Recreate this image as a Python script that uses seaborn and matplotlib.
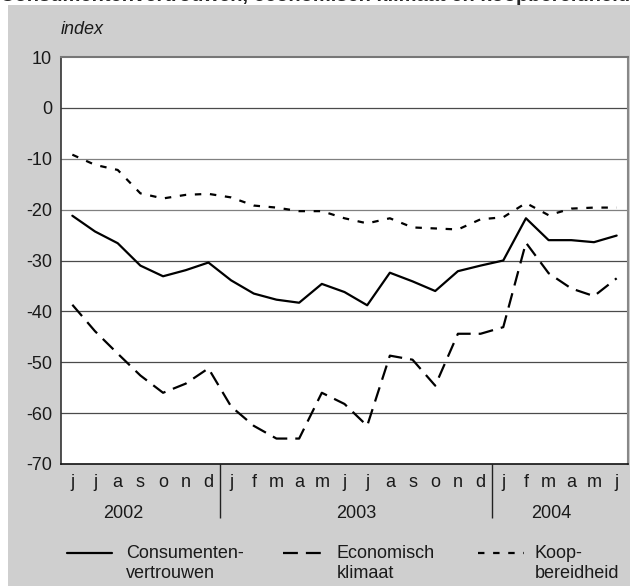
import numpy as np
import pandas as pd
import seaborn as sns
import matplotlib.pyplot as plt
from matplotlib.lines import Line2D
from matplotlib.patches import Rectangle

# maanden juni 2002 t/m juni 2004
maanden = ['j', 'j', 'a', 's', 'o', 'n', 'd',
           'j', 'f', 'm', 'a', 'm', 'j', 'j', 'a', 's', 'o', 'n', 'd',
           'j', 'f', 'm', 'a', 'm', 'j']
jaren = ['2002', '2003', '2004']
jaar_pos = [2.25, 12.5, 21.1]
jaar_grens = [6.5, 18.5]

consumentenvertrouwen = [-21.2, -24.3, -26.6, -31.0, -33.1, -31.9, -30.4,
                         -33.9, -36.5, -37.7, -38.3, -34.6, -36.2, -38.8,
                         -32.4, -34.1, -36.0, -32.1, -31.0, -30.0, -21.7,
                         -26.0, -26.0, -26.4, -25.1]
economisch_klimaat = [-38.7, -43.9, -48.3, -52.6, -56.0, -54.2, -51.2,
                      -58.7, -62.5, -65.0, -65.0, -56.0, -58.2, -62.5,
                      -48.7, -49.5, -54.6, -44.4, -44.4, -43.1, -26.5,
                      -32.5, -35.5, -37.0, -33.5]
koopbereidheid = [-9.2, -11.2, -12.2, -16.8, -17.8, -17.1, -16.9,
                  -17.6, -19.2, -19.6, -20.3, -20.3, -21.7, -22.7,
                  -21.7, -23.5, -23.7, -23.9, -21.9, -21.5, -18.7,
                  -21.1, -19.8, -19.6, -19.6]

namen = ['Consumentenvertrouwen', 'Economisch klimaat', 'Koopbereidheid']
legenda_tekst = [('Consumenten-', 'vertrouwen'), ('Economisch', 'klimaat'),
                 ('Koop-', 'bereidheid')]
streep = {namen[0]: '', namen[1]: (6.7, 3.6), namen[2]: (2.9, 3.9)}

n = len(maanden)
df = pd.DataFrame({
    't': list(range(n)) * 3,
    'waarde': consumentenvertrouwen + economisch_klimaat + koopbereidheid,
    'reeks': [namen[0]] * n + [namen[1]] * n + [namen[2]] * n,
})

sns.set_style('white')
plt.rcParams['font.family'] = ['Liberation Sans', 'DejaVu Sans']
plt.rcParams['axes.unicode_minus'] = False
FS = 13
TK = '#1a1a1a'

W, H = 630, 586
fig = plt.figure(figsize=(W / 100, H / 100), dpi=100, facecolor='white')
fig.patches.append(Rectangle((8 / W, 0), 1, (H - 5) / H, transform=fig.transFigure,
                             facecolor='#cfcfcf', edgecolor='none', zorder=-10))

ax = fig.add_axes([61 / W, (H - 464) / H, (628 - 61) / W, (464 - 57) / H])
ax.set_facecolor('white')

sns.lineplot(data=df, x='t', y='waarde', style='reeks', dashes=streep,
             color='black', linewidth=1.6, legend=False, ax=ax, zorder=3)

ax.set_xlim(-0.5, 24.5)
ax.set_ylim(-70, 10)
ax.set_yticks(range(-70, 11, 10))
ax.set_xticks(range(n))
ax.set_xticklabels(maanden)
ax.set_xlabel('')
ax.set_ylabel('')
for y in range(-60, 1, 10):
    kleur = '#808080' if y in (-10, -20) else '#4a4a4a'
    ax.axhline(y, color=kleur, linewidth=0.9, zorder=1)

ax.tick_params(axis='y', length=0, pad=6.5, labelsize=FS, labelcolor=TK)
ax.tick_params(axis='x', direction='in', length=5, width=1, color='#222222',
               pad=7, labelsize=FS, labelcolor=TK)

ax.spines['left'].set_color('#333333')
ax.spines['bottom'].set_color('#111111')
ax.spines['top'].set_color('#777777')
ax.spines['right'].set_color('#888888')
ax.spines['left'].set_linewidth(1.2)
ax.spines['bottom'].set_linewidth(1.2)
ax.spines['top'].set_linewidth(1.5)
ax.spines['right'].set_linewidth(1.5)

# jaarscheiding en jaartallen
xtr = ax.get_xaxis_transform()
ax.vlines(jaar_grens, -54 / 407, 0, transform=xtr, color='#222222',
          linewidth=1, clip_on=False)
for pos, jaar in zip(jaar_pos, jaren):
    ax.text(pos, -49 / 407, jaar, transform=xtr, ha='center', va='center',
            fontsize=FS, color=TK)

fig.text(61 / W, (H - 30) / H, 'index', style='italic', fontsize=FS,
         color=TK, va='center', ha='left')
# titel valt in het origineel grotendeels buiten beeld
fig.text(0, (H - 1) / H, 'Consumentenvertrouwen, economisch klimaat en koopbereidheid',
         fontsize=14.5, fontweight='bold', va='baseline', ha='left')

# legenda onder de grafiek
lijn_x = [(67, 112), (283, 321), (478, 524)]
tekst_x = [126, 337, 535]
for naam, (x0, x1), tx, (r1, r2) in zip(namen, lijn_x, tekst_x, legenda_tekst):
    fig.add_artist(Line2D([x0 / W, x1 / W], [(H - 553) / H] * 2, color='black',
                          linewidth=1.6, dashes=streep[naam] or (None, None)))
    fig.text(tx / W, (H - 553) / H, r1, fontsize=FS, color=TK, va='center', ha='left')
    fig.text(tx / W, (H - 573) / H, r2, fontsize=FS, color=TK, va='center', ha='left')

fig.savefig('out.png', dpi=100, facecolor=fig.get_facecolor())
